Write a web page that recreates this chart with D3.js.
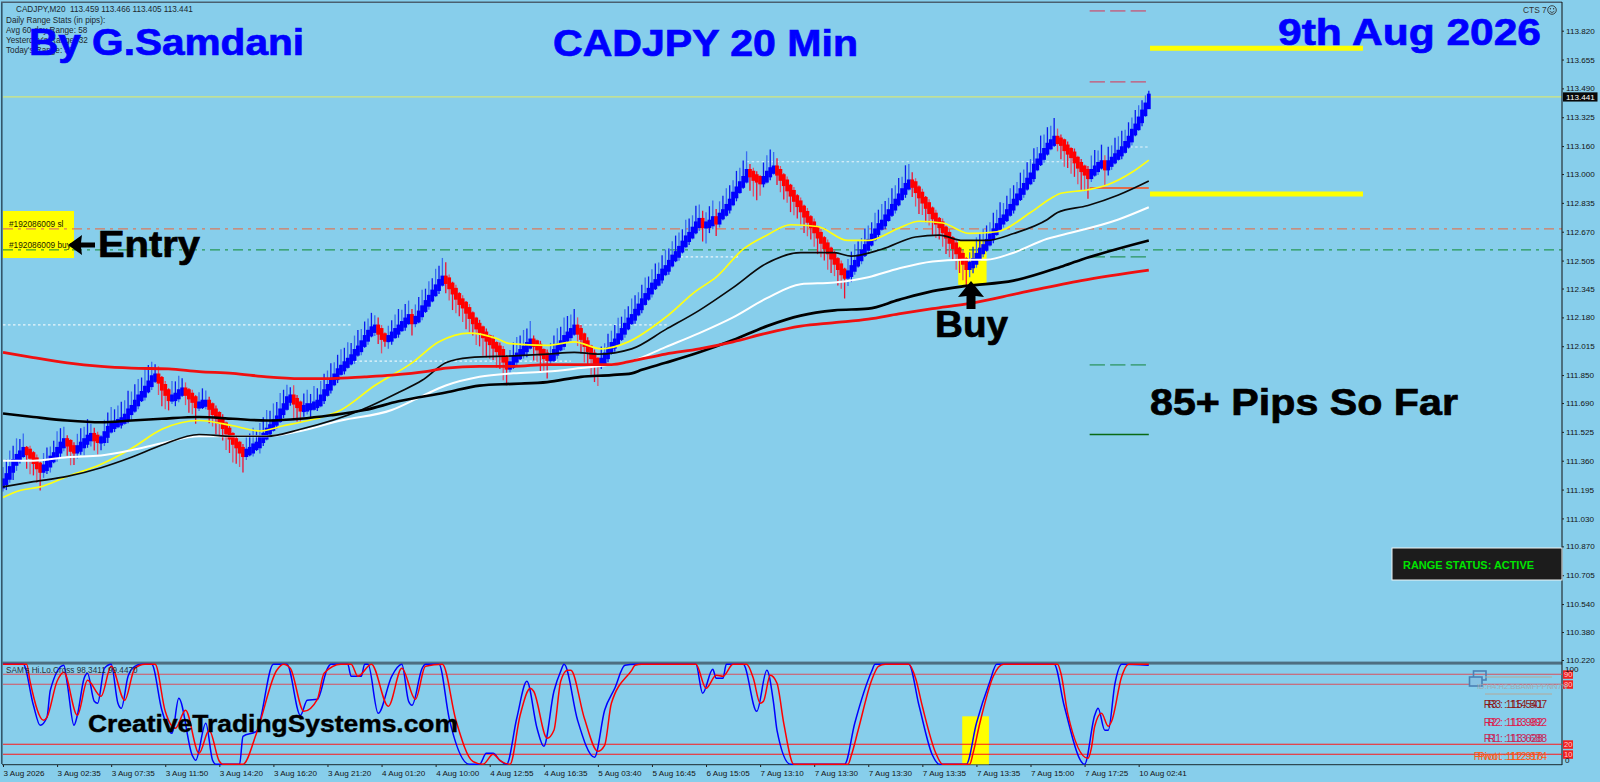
<!DOCTYPE html>
<html><head><meta charset="utf-8">
<script src="https://cdn.jsdelivr.net/npm/d3@7/dist/d3.min.js"></script>
<style>html,body{margin:0;padding:0;background:#87CEEB;overflow:hidden}svg{display:block}text{font-family:"Liberation Sans",Arial,sans-serif}</style>
</head><body><svg id="c" width="1600" height="782"></svg>
<script>
const closes=[
111.24,111.27,111.31,111.35,111.38,111.40,111.42,111.41,111.39,111.36,111.33,111.31,111.32,111.34,111.37,111.39,111.42,111.45,111.47,111.46,
111.43,111.42,111.43,111.45,111.47,111.49,111.50,111.49,111.48,111.48,111.51,111.54,111.56,111.57,111.58,111.59,111.61,111.64,111.66,111.69,
111.72,111.74,111.77,111.80,111.83,111.84,111.82,111.78,111.75,111.72,111.72,111.73,111.75,111.76,111.75,111.73,111.71,111.68,111.68,111.69,
111.69,111.67,111.64,111.62,111.59,111.56,111.53,111.50,111.47,111.45,111.42,111.40,111.41,111.42,111.44,111.45,111.48,111.50,111.53,111.55,
111.58,111.60,111.64,111.67,111.71,111.72,111.70,111.68,111.66,111.66,111.67,111.67,111.68,111.69,111.72,111.75,111.78,111.81,111.84,111.87,
111.89,111.91,111.93,111.95,111.98,112.00,112.03,112.06,112.09,112.11,112.12,112.10,112.07,112.06,112.06,112.08,112.10,112.12,112.14,112.16,
112.18,112.16,112.17,112.20,112.23,112.26,112.29,112.32,112.35,112.38,112.40,112.39,112.36,112.33,112.30,112.27,112.25,112.22,112.19,112.16,
112.13,112.11,112.08,112.06,112.04,112.02,112.00,111.98,111.94,111.90,111.91,111.94,111.96,111.98,112.00,112.02,112.04,112.03,112.01,111.98,
111.96,111.95,111.95,111.98,112.01,112.03,112.06,112.08,112.10,112.12,112.10,112.07,112.03,112.00,111.96,111.93,111.92,111.93,111.96,111.99,
112.02,112.04,112.07,112.10,112.13,112.16,112.18,112.21,112.24,112.27,112.30,112.33,112.36,112.38,112.41,112.44,112.46,112.49,112.52,112.54,
112.57,112.60,112.63,112.65,112.68,112.71,112.73,112.71,112.71,112.72,112.74,112.73,112.76,112.78,112.81,112.84,112.88,112.91,112.94,112.97,
113.01,113.00,112.98,112.97,112.96,112.97,113.00,113.02,113.03,113.01,112.98,112.95,112.92,112.89,112.86,112.83,112.80,112.77,112.74,112.71,
112.68,112.65,112.62,112.59,112.56,112.53,112.50,112.47,112.44,112.42,112.43,112.46,112.49,112.52,112.55,112.58,112.61,112.64,112.67,112.70,
112.72,112.75,112.78,112.81,112.84,112.87,112.90,112.93,112.95,112.94,112.91,112.88,112.85,112.82,112.79,112.76,112.73,112.71,112.68,112.65,
112.62,112.59,112.56,112.53,112.50,112.47,112.48,112.50,112.53,112.56,112.58,112.61,112.64,112.67,112.70,112.73,112.75,112.78,112.81,112.84,
112.87,112.90,112.93,112.96,112.99,113.04,113.07,113.10,113.13,113.16,113.18,113.20,113.19,113.18,113.15,113.13,113.11,113.08,113.05,113.03,
113.01,112.99,113.01,113.03,113.05,113.06,113.04,113.06,113.08,113.10,113.12,113.14,113.17,113.20,113.24,113.27,113.31,113.35,113.39,113.441];
// wick lengths, in pips above / below the body
const wickUp=[
7,8,9,8,9,7,8,2,3,2,3,2,7,8,6,7,9,8,7,3,
2,3,7,8,7,9,6,4,3,2,7,8,9,7,8,9,8,10,8,9,
9,8,10,9,8,6,5,2,3,2,8,7,8,6,4,2,3,2,6,7,
6,3,2,3,2,3,2,3,2,3,2,3,7,8,9,7,8,9,10,8,
9,8,9,8,7,5,6,3,2,7,8,6,9,7,8,9,8,9,7,8,
9,8,9,7,8,9,7,8,7,8,6,5,3,2,6,7,8,9,7,8,
8,4,7,8,9,7,8,7,9,8,10,8,3,2,3,2,3,2,3,2,
2,3,2,3,2,3,2,3,3,2,7,8,9,8,9,8,10,3,2,3,
2,3,7,8,9,8,10,9,8,9,5,3,2,3,2,3,2,7,6,8,
7,8,9,7,8,7,9,8,7,8,9,7,8,9,7,8,9,7,8,9,
8,7,9,8,7,9,8,5,6,8,9,5,7,8,9,8,7,9,8,9,
10,4,3,3,2,8,9,10,8,5,3,2,3,2,3,2,3,2,3,2,
3,2,3,2,3,2,3,2,3,2,7,8,9,8,7,9,8,7,9,8,
9,8,7,9,8,9,7,10,9,5,3,2,3,2,3,2,3,2,3,2,
3,2,3,2,3,2,6,7,9,8,9,8,7,9,8,9,7,8,9,8,
7,9,8,9,8,9,7,10,8,9,8,10,5,3,2,3,2,3,2,3,
2,3,8,9,7,9,4,8,7,9,8,9,7,8,7,8,7,6,5,3];
const wickDown=[
3,4,3,5,4,3,2,8,9,7,8,10,4,3,4,2,3,4,3,6,
8,7,4,3,5,3,4,6,7,5,3,4,2,3,2,3,2,3,4,2,
3,2,3,2,3,2,7,9,8,6,3,4,3,2,6,8,7,9,3,2,
3,8,7,9,8,7,9,8,10,9,8,9,3,2,3,2,4,3,2,3,
2,3,2,3,2,3,9,8,7,4,3,5,2,3,2,3,2,3,2,3,
2,3,2,2,3,2,3,2,3,2,3,6,8,4,5,3,2,3,2,3,
2,7,3,2,3,2,3,2,2,3,2,6,7,9,8,7,8,9,8,7,
9,8,10,9,8,7,9,8,10,9,3,2,3,2,3,4,2,8,7,9,
8,10,3,2,3,2,3,2,3,2,7,8,9,8,9,10,11,3,2,3,
2,3,2,2,3,2,2,3,2,3,2,2,3,2,2,3,2,3,2,2,
3,2,2,3,2,2,3,8,9,4,3,7,3,2,2,3,2,3,2,2,
2,8,9,10,7,3,2,3,2,6,7,8,7,9,8,7,8,9,8,7,
8,9,8,7,9,8,7,9,8,11,5,4,3,2,3,2,3,2,2,3,
2,3,2,2,3,2,2,3,2,6,8,9,7,8,7,9,8,7,8,9,
8,7,9,8,9,10,5,4,3,2,3,2,2,3,2,2,3,2,2,3,
2,2,3,2,2,3,2,2,3,2,2,2,5,8,9,8,9,8,9,10,
9,11,3,2,3,2,9,4,3,2,2,3,2,2,3,2,2,3,2,1];

const redMaBars=[0,9,19,29,38,49,58,68,78,88,97,107,115,125,131,141,151,161,171,180,186,196,206,216,226,236,246,256,265,275,286,301,319,339];
const redMa=[111.98,111.95,111.92,111.90,111.89,111.885,111.87,111.86,111.84,111.83,111.83,111.84,111.85,111.87,111.89,111.90,111.90,111.91,111.91,111.91,111.93,111.97,112.00,112.04,112.09,112.13,112.15,112.17,112.20,112.23,112.26,112.32,112.39,112.45];
const blackThickBars=[0,9,19,29,38,47,58,68,78,88,97,107,117,131,141,151,161,171,180,186,189,196,206,216,226,236,246,256,265,275,285,299,313,319,339];
const blackThick=[111.63,111.61,111.59,111.58,111.59,111.60,111.61,111.60,111.59,111.60,111.62,111.65,111.70,111.75,111.79,111.80,111.81,111.84,111.85,111.86,111.88,111.92,111.98,112.05,112.13,112.19,112.22,112.23,112.28,112.33,112.36,112.39,112.47,112.51,112.62];
const whiteBars=[0,9,19,29,38,47,58,68,78,88,100,115,124,131,141,151,161,171,180,186,196,206,216,226,236,246,256,265,275,284,291,299,309,313,330,339];
const whiteMa=[111.36,111.36,111.38,111.39,111.42,111.46,111.50,111.50,111.50,111.53,111.59,111.65,111.73,111.79,111.84,111.86,111.87,111.89,111.91,111.93,112.01,112.09,112.18,112.29,112.37,112.38,112.41,112.46,112.50,112.51,112.51,112.55,112.63,112.65,112.74,112.81];
const blackThinBars=[0,9,19,29,38,47,58,68,78,88,106,117,124,131,138,151,161,169,176,186,196,206,216,226,236,246,251,260,270,277,284,291,299,309,312,321,330,339];
const blackThin=[111.21,111.24,111.27,111.32,111.38,111.45,111.51,111.50,111.50,111.54,111.65,111.75,111.82,111.92,111.95,111.96,111.97,111.98,111.97,112.00,112.11,112.22,112.35,112.49,112.55,112.55,112.53,112.57,112.64,112.65,112.62,112.62,112.66,112.74,112.78,112.82,112.88,112.96];
const yellowBars=[0,5,11,19,29,38,47,58,68,76,83,88,100,110,121,129,138,146,150,161,169,177,185,196,205,211,219,226,233,241,250,256,265,271,278,286,294,304,310,313,321,327,334,339];
const yellowMa=[111.15,111.19,111.21,111.27,111.34,111.43,111.54,111.59,111.56,111.53,111.56,111.58,111.65,111.79,111.92,112.04,112.09,112.06,112.03,112.02,112.04,112.00,112.04,112.18,112.33,112.41,112.57,112.65,112.71,112.70,112.62,112.62,112.69,112.73,112.72,112.66,112.67,112.78,112.86,112.89,112.91,112.94,113.01,113.08];

const stochBlueBars=[0,6,9,11,13,14,18,19,21,22,24,25,27,28,30,32,34,35,37,39,41,44,47,50,52,56,57,60,62,63,70,71,75,80,84,88,90,93,96,97,102,103,106,107,108,111,115,118,120,121,124,125,129,132,138,141,143,145,147,149,152,155,158,160,163,165,166,170,175,178,181,184,187,205,207,210,211,213,214,219,223,226,228,229,233,248,249,252,257,258,268,271,275,277,285,288,292,294,311,314,320,323,324,326,327,329,331,339];
const stochBlue=[100,100,59,39,47,74,99,81,39,49,86,91,63,61,96,100,61,56,88,98,100,100,54,31,66,9,4,41,4,0,0,28,33,100,100,49,64,65,96,100,100,88,88,100,100,51,88,100,63,59,96,100,100,46,0,0,11,11,4,0,46,83,36,18,73,93,100,44,7,54,76,99,100,100,71,95,86,86,100,100,53,94,61,34,0,0,0,41,93,100,100,59,9,0,0,41,83,100,100,58,0,49,56,34,34,81,100,99];
const stochRedBars=[0,7,8,12,13,16,18,22,25,29,32,36,39,42,45,48,51,54,58,61,64,65,71,75,81,83,85,89,93,95,100,103,105,109,114,118,122,125,130,134,139,142,145,147,150,153,156,157,161,163,165,167,168,172,176,178,180,186,187,189,205,208,211,213,216,220,222,224,225,227,229,231,234,250,251,253,257,259,261,268,270,272,276,278,286,287,289,293,296,312,313,315,321,322,323,325,327,328,331,333,339];
const stochRed=[100,100,83,44,47,83,92,49,84,68,98,64,96,100,100,53,36,54,11,34,3,0,0,31,94,100,96,53,65,91,100,100,88,100,58,96,65,98,100,44,3,0,10,4,0,49,76,73,26,34,83,94,94,46,13,19,61,94,99,100,100,76,89,88,100,100,86,61,63,89,81,41,0,0,9,34,84,98,100,100,86,58,11,0,0,11,41,88,100,100,91,51,6,16,38,51,38,43,88,100,100];
const stochLevels=[90,80,20,10];

const yTickLabels=["113.820","113.655","113.490","113.325","113.160","113.000","112.835","112.670","112.505","112.345","112.180","112.015","111.850","111.690","111.525","111.360","111.195","111.030","110.870","110.705","110.540","110.380","110.220"];
const xTickLabels=["3 Aug 2026","3 Aug 02:35","3 Aug 07:35","3 Aug 11:50","3 Aug 14:20","3 Aug 16:20","3 Aug 21:20","4 Aug 01:20","4 Aug 10:00","4 Aug 12:55","4 Aug 16:35","5 Aug 03:40","5 Aug 16:45","6 Aug 15:05","7 Aug 13:10","7 Aug 13:30","7 Aug 13:30","7 Aug 13:35","7 Aug 13:35","7 Aug 15:00","7 Aug 17:25","10 Aug 02:41"];
const lastPrice=113.441, slPrice=112.686, buyPrice=112.566;
const redLevels=[113.933,113.527], greenLevels=[112.526,111.908], solidGreenLevel=111.51, orangeLevel=112.92;
const yellowLevels=[113.72,112.886];
const dottedSegs=[[0,103,112.137],[104,168,111.93],[169,197,112.137],[199,218,112.526],[220,319,113.07],[332,339,113.155]];
const infoLines=["Daily Range Stats (in pips):","Avg 60-day Range: 58","Yesterday's Range: 32","Today's Range: 33"];
const pivotTexts=[["R3 : 114.507","R3 : 115.541","#8b1a1a",708],["R2 : 113.992","R2 : 113.982","#dc1e50",725.5],["R1 : 113.688","R1 : 113.628","#c8285a",741.7],["Pivot : 112.974","Pivot : 112.916","#ff5a14",759.5]];

const svg=d3.select("#c");
const x=d3.scaleLinear().domain([0,339]).range([3,1148.8]);
const y=d3.scaleLinear().domain([110.22,113.82]).range([660,30.7]);
const ys=d3.scaleLinear().domain([0,100]).range([764.3,664.3]);
const right=1562, left=3;

svg.append("rect").attr("width",1600).attr("height",782).attr("fill","#87CEEB");
// highlight boxes
svg.append("rect").attr("x",x(282.6)).attr("width",x(291)-x(282.6)).attr("y",y(112.623)).attr("height",y(112.366)-y(112.623)).attr("fill","#ffff00");
svg.append("rect").attr("x",left).attr("y",211).attr("width",71).attr("height",47).attr("fill","#ffff00");
// horizontal lines
const hl=(p,a,b,col,w,dash)=>svg.append("line").attr("x1",a).attr("x2",b).attr("y1",y(p)).attr("y2",y(p)).attr("stroke",col).attr("stroke-width",w).attr("stroke-dasharray",dash||null);
hl(slPrice,left,right,"#dc7a5c",1.2,"10 5 3 5");
hl(buyPrice,left,right,"#108a30",1,"10 5 3 5");
dottedSegs.forEach(s=>hl(s[2],x(s[0]),x(s[1]),"#eaf6fb",1.1,"2.5 2.5"));
hl(lastPrice,left,right,"#d3e67c",1.2);
redLevels.forEach(p=>hl(p,x(321.5),x(338.5),"#de3050",1,"15.3 5.2"));
greenLevels.forEach(p=>hl(p,x(321.5),x(338.5),"#14853a",1,"15.3 5.2"));
hl(solidGreenLevel,x(321.5),x(339),"#0a6a14",1.3);
yellowLevels.forEach(p=>hl(p,1150,1363,"#ffff00",5));

// candles
const candles=closes.map((c,i)=>{const o=i?closes[i-1]:c-0.02;const top=Math.max(o,c),bot=Math.min(o,c);
  return {i,o,c,hi:top+(wickUp[i]||0)*0.012,lo:bot-(wickDown[i]||0)*0.012,top,bot,up:c>=o};});
const cg=svg.append("g");
cg.selectAll("line").data(candles).join("line").attr("x1",d=>x(d.i)).attr("x2",d=>x(d.i)).attr("y1",d=>y(d.hi)).attr("y2",d=>y(d.lo))
  .attr("stroke",d=>d.up?(d.i%2?"#0a1cf0":"#3a6cf0"):(d.i%2?"#f01030":"#e0506a")).attr("stroke-width",1.3);
cg.selectAll("rect").data(candles).join("rect").attr("x",d=>x(d.i)-0.4).attr("width",0.8).attr("y",d=>y(d.top)-1.8).attr("height",d=>Math.max(0.5,y(d.bot)-y(d.top))+3.6)
  .attr("fill",d=>d.up?"#0000ff":"#ff0000").attr("stroke",d=>d.up?"#0000ff":"#ff0000").attr("stroke-width",3);
hl(orangeLevel,x(321.5),x(339),"#ff4a14",1.4);

// moving averages
const maLine=(bars,vals,col,w)=>{const l=d3.line().curve(d3.curveMonotoneX).x((d,i)=>x(bars[i])).y(d=>y(d));svg.append("path").attr("d",l(vals)).attr("fill","none").attr("stroke",col).attr("stroke-width",w).attr("stroke-linejoin","round");};
maLine(yellowBars,yellowMa,"#ffff10",1.7);
maLine(whiteBars,whiteMa,"#ffffff",2);
maLine(blackThinBars,blackThin,"#0a0a0a",1.7);
maLine(blackThickBars,blackThick,"#000000",2.7);
maLine(redMaBars,redMa,"#f01010",2.8);

// frame (separator first, the oscillator flat tops lie on its lower edge)
const dark="#34566a";
svg.append("rect").attr("x",1).attr("y",2).attr("width",1.6).attr("height",762).attr("fill",dark);
svg.append("rect").attr("x",1).attr("y",1.5).attr("width",right-1).attr("height",1.5).attr("fill","#4a6070");
svg.append("rect").attr("x",2).attr("y",661.6).attr("width",right-2).attr("height",3).attr("fill","#4d6e80");
svg.append("line").attr("x1",right).attr("x2",right).attr("y1",2).attr("y2",765).attr("stroke","#111").attr("stroke-width",1);
svg.append("line").attr("x1",2).attr("x2",right).attr("y1",764.7).attr("y2",764.7).attr("stroke","#1a2a30").attr("stroke-width",1);

// stochastic pane
svg.append("rect").attr("x",x(283.8)).attr("width",x(291.7)-x(283.8)).attr("y",ys(48)).attr("height",ys(0)-ys(48)).attr("fill","#ffff00");
stochLevels.forEach(l=>svg.append("line").attr("x1",left).attr("x2",right).attr("y1",ys(l)).attr("y2",ys(l)).attr("stroke",l>50?"#d8505e":"#ff1818").attr("stroke-width",1.1));
const sl=(bars,vals,col)=>svg.append("path").attr("d",d3.line().curve(d3.curveMonotoneX).x((d,i)=>x(bars[i])).y(d=>ys(d))(vals)).attr("fill","none").attr("stroke",col).attr("stroke-width",1.5).attr("stroke-linejoin","round");
sl(stochBlueBars,stochBlue,"#0000ff");
sl(stochRedBars,stochRed,"#ff0000");

// axes
const yAxis=d3.axisRight(y).tickValues(yTickLabels.map(Number)).tickFormat((d,i)=>yTickLabels[i]).tickSize(2).tickPadding(2);
const ga=svg.append("g").attr("transform",`translate(${right},0)`).call(yAxis);
ga.select(".domain").remove();
ga.selectAll("text").attr("font-size",8.1).attr("fill","#151515").style("font-family",'"Liberation Sans"');
ga.selectAll("line").attr("stroke","#222");
const xAxis=d3.axisBottom(x).tickValues(xTickLabels.map((d,i)=>i*16)).tickFormat((d,i)=>xTickLabels[i]).tickSize(2).tickPadding(3);
const gx=svg.append("g").attr("transform","translate(0,765)").call(xAxis);
gx.select(".domain").remove();
gx.selectAll("text").attr("font-size",8.1).attr("fill","#151515").attr("text-anchor","start").attr("x",0).style("font-family",'"Liberation Sans"');
gx.selectAll("line").attr("stroke","#222");
// last price box
svg.append("rect").attr("x",right+1).attr("y",y(lastPrice)-4.6).attr("width",34.5).attr("height",9.2).attr("fill","#080808");
svg.append("text").attr("x",right+4).attr("y",y(lastPrice)+3).attr("font-size",8.1).attr("fill","#fff").text(lastPrice.toFixed(3));

// stochastic right labels
stochLevels.forEach(l=>{svg.append("rect").attr("x",right+1).attr("y",ys(l)-4).attr("width",10).attr("height",8.5).attr("fill","#f02020");
 svg.append("text").attr("x",right+2).attr("y",ys(l)+3).attr("font-size",7.6).attr("fill","#ffd0d0").text(l);});
svg.append("text").attr("x",right+3).attr("y",672).attr("font-size",8.1).attr("fill","#111").text("100");
svg.append("text").attr("x",right+3).attr("y",763).attr("font-size",8.1).attr("fill","#111").text("0");

// small text
const T=(s,tx,ty,size,col,weight,anchor)=>svg.append("text").attr("x",tx).attr("y",ty).attr("font-size",size).attr("fill",col).attr("font-weight",weight||null).attr("text-anchor",anchor||null).text(s);
T("CADJPY,M20  113.459 113.466 113.405 113.441",16,12,8.2,"#20282e").attr("xml:space","preserve");
infoLines.forEach((s,i)=>T(s,6,23+i*10,8.2,"#20282e"));
T("SAM's Hi.Lo.Cross 98.3411 99.4470",6,673,8.2,"#283038");
T("CTS 7",1523,13,8.4,"#333");
svg.append("circle").attr("cx",1552).attr("cy",10).attr("r",4.3).attr("fill","none").attr("stroke","#333").attr("stroke-width",.9);
svg.append("circle").attr("cx",1550.4).attr("cy",8.8).attr("r",.7).attr("fill","#333");
svg.append("circle").attr("cx",1553.6).attr("cy",8.8).attr("r",.7).attr("fill","#333");
svg.append("path").attr("d","M1549.6 11.2 Q1552 14 1554.4 11.2").attr("fill","none").attr("stroke","#333").attr("stroke-width",.8);
T("#192086009 sl",9,227,8.3,"#1a1a00");
T("#192086009 buy",9,248,8.3,"#1a1a00");

// big text, widened to the reference's text widths
const B=(s,tx,ty,size,col,len)=>T(s,tx,ty,size,col,"bold").attr("textLength",len).attr("lengthAdjust","spacingAndGlyphs").attr("stroke",col).attr("stroke-width",0.7);
B("By G.Samdani",29,55,37,"#0000ff",275);
B("CADJPY 20 Min",553,56,37,"#0000ff",305);
B("9th Aug 2026",1278,45,37,"#0000ff",263);
B("Entry",98,257,36,"#000",102);
B("Buy",935,337,36,"#000",73);
B("85+ Pips So Far",1150,415,37,"#000",308);
B("CreativeTradingSystems.com",88,732,24.6,"#000",370).attr("stroke-width",0.4);
svg.append("path").attr("d","M971 281 L984 297 L975.5 296 L975.5 309 L966.5 309 L966.5 296 L958 297 Z").attr("fill","#000");
svg.append("path").attr("d","M68 245 L82 235 L81 242.5 L95 242.5 L95 247.5 L81 247.5 L82 255 Z").attr("fill","#000");

// range status
svg.append("rect").attr("x",1392).attr("y",548).attr("width",170).attr("height",32).attr("fill","#1c1c1c").attr("stroke","#f0f4f4").attr("stroke-width",1);
T("RANGE STATUS: ACTIVE",1403,569,10.4,"#00e400","bold").attr("textLength",131).attr("lengthAdjust","spacingAndGlyphs");

// pivot panel
svg.append("rect").attr("x",1473.5).attr("y",671).attr("width",12.5).attr("height",9).attr("fill","none").attr("stroke","#4a80b4").attr("stroke-width",1.6);
svg.append("rect").attr("x",1469.5).attr("y",677).attr("width",12.5).attr("height",9).attr("fill","#87c3e4").attr("stroke","#4a80b4").attr("stroke-width",1.6);
[677,694].forEach(v=>svg.append("line").attr("x1",1485).attr("x2",1552).attr("y1",v).attr("y2",v).attr("stroke","#b4a898").attr("stroke-width",1));
T("ID:H4:H2:BBAMFPPNN7N",1477,689,7.6,"#a0a8b0");
pivotTexts.forEach(p=>{const xr=1547;T(p[0],xr,p[3],10.5,p[2],null,"end");T(p[1],xr-4,p[3],10.5,p[2],null,"end");});
</script></body></html>
